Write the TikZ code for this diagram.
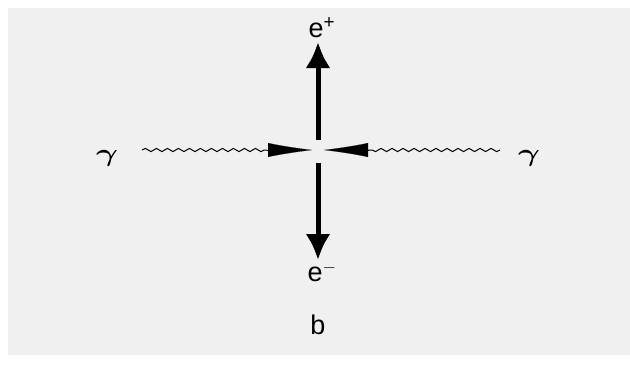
\documentclass[tikz,border=0pt]{standalone}
\usepackage{fontspec}
\setmainfont{Liberation Sans}
\usetikzlibrary{arrows.meta,decorations.pathmorphing}
\newcommand{\gsym}{\scalebox{1.35}[1]{$\gamma$}}
\begin{document}
\begin{tikzpicture}[x=1pt,y=-1pt,
  lbl/.style={inner sep=0pt,font=\fontsize{27}{30}\selectfont},
  glbl/.style={inner sep=0pt,font=\boldmath\fontsize{36}{40}\selectfont},
  electron/.style={line width=5pt,-{Latex[length=26pt,width=25pt]}},
  photon/.style={line width=1pt,decorate,decoration={snake,segment length=11pt,amplitude=1.6pt}},
  phead/.style={line width=0.1pt,-{Latex[length=44pt,width=14pt]}}]
\useasboundingbox (0,0) rectangle (630,365);
\fill[white] (0,0) rectangle (630,365);
\fill[black!6] (8,8) rectangle (630,355);
% labels
\node[lbl] (ep) at (322,28) {e\textsuperscript{+}};
\node[lbl] (em) at (322,272) {e\textsuperscript{$-$}};
\node[lbl] (b) at (318,325) {b};
\node[glbl] (gl) at (107,158) {\gsym};
\node[glbl] (gr) at (529,158) {\gsym};
% coordinates
\coordinate (upS) at (318,140);
\coordinate (upT) at (318,42);
\coordinate (dnS) at (318,163);
\coordinate (dnT) at (318,260);
\coordinate (lw0) at (142,150);
\coordinate (lb) at (267,150);
\coordinate (lt) at (312,150);
\coordinate (rw0) at (500,150);
\coordinate (rb) at (368,150);
\coordinate (rt) at (324,150);
% electrons
\draw[electron] (upS) -- (upT);
\draw[electron] (dnS) -- (dnT);
% photons
\draw[photon] (lw0) -- (lb);
\draw[phead] (lb) -- (lt);
\draw[photon] (rw0) -- (rb);
\draw[phead] (rb) -- (rt);
\end{tikzpicture}
\end{document}
